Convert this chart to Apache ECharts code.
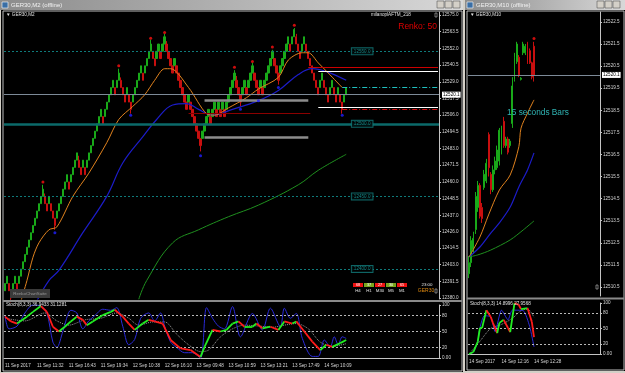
<!DOCTYPE html>
<html><head><meta charset="utf-8">
<script src="https://cdn.jsdelivr.net/npm/echarts@6/dist/echarts.min.js"></script>
<style>html,body{margin:0;padding:0;background:#d4d0c8;overflow:hidden}#chart{width:625px;height:373px}</style>
</head><body><div id="chart"></div>
<script>
// ---------------- LEFT CHART DATA (GER30,M2 renko) ----------------
const barCloses = [12390,12395,12385,12380,12390,12395,12385,12395,12400,12405,12410,12415,12420,12425,12430,12435,12440,12445,12450,12455,
12445,12440,12450,12440,12435,12430,12440,12445,12450,12455,12460,12465,12455,12465,12470,12475,12480,12470,12465,12475,
12465,12475,12480,12485,12490,12495,12500,12505,12510,12500,12510,12515,12520,12525,12530,12520,12530,12535,12525,12520,
12515,12525,12515,12510,12520,12525,12530,12535,12540,12530,12540,12545,12550,12555,12545,12540,12550,12555,12545,12555,
12560,12550,12545,12540,12535,12545,12535,12530,12525,12520,12515,12510,12520,12510,12505,12500,12495,12490,12485,12495,
12500,12505,12510,12500,12510,12515,12505,12515,12505,12515,12505,12515,12520,12525,12530,12535,12525,12520,12515,12525,
12530,12520,12530,12535,12540,12530,12525,12520,12530,12520,12530,12535,12540,12545,12550,12540,12535,12530,12540,12545,
12550,12555,12560,12550,12560,12565,12555,12550,12545,12555,12560,12550,12545,12540,12535,12530,12525,12520,12530,12535,
12525,12520,12515,12525,12530,12520,12515,12525,12515,12510,12520,12525];
const brickSize = 5;
const wickHighs = [[19,12458],[20,12452],[37,12478],[57,12538],[58,12532],[73,12558],[80,12562],[81,12557],[115,12537],[116,12533],[124,12542],[134,12551],[145,12566],[146,12562]];
const wickLows = [[3,12377],[25,12427],[63,12507],[98,12481],[118,12512],[137,12527],[169,12507]];
const redDots = [[19,12460],[57,12540],[73,12559],[80,12563],[115,12539],[124,12543],[134,12553],[145,12568]];
const blueDots = [[25,12425],[63,12506],[98,12478],[118,12510],[127,12516],[137,12525],[169,12506]];
const maFast = [[8,12378],[11,12392],[14,12408],[17,12418],[22,12427],[26,12429],[34,12450],[42,12466],[51,12487],[57,12503],[64,12512],[70,12520],[75,12530],[80,12538],[83,12538],[92,12525],[101,12507],[105,12506],[112,12511],[121,12518],[127,12524],[137,12532],[142,12544],[149,12549],[152,12549],[157,12542],[162,12535],[169,12525]];
const maMid = [[16,12378],[22,12392],[27,12399],[39,12425],[51,12450],[59,12473],[69,12491],[76,12503],[84,12513],[91,12514],[97,12510],[104,12506],[114,12510],[127,12516],[137,12523],[147,12534],[154,12538],[161,12536],[171,12530]];
const maSlow = [[67,12379],[71,12392],[84,12418],[97,12427],[112,12436],[127,12444],[147,12458],[157,12468],[171,12479]];
const currentPrice = 12520.1;
const roundLevels = [12550, 12450, 12400];   // dotted teal
const mainLevel = 12500;                      // thick teal
const grayZones = [[12516.4,100,152],[12491,100,152]];
const darkRedSeg = [[12507.5,92,153]];
const redSeg = [[12539,152,217]];
const whiteSegs = [[12536.4,157,217],[12511.6,157,217]];
const cyanDashDot = [[12525.4,169,217]];
const redDashDot = [[12510.2,169,217]];
const priceTicksL = [12380,12391.5,12403,12414.5,12426,12437,12448.5,12460,12471.5,12483,12494.5,12506,12517.5,12529,12540.5,12552,12563.5,12575];
const timeLabelsL = ["11 Sep 2017","11 Sep 11:32","11 Sep 16:43","11 Sep 19:34","12 Sep 10:38","12 Sep 16:10","13 Sep 09:48","13 Sep 10:59","13 Sep 13:21","13 Sep 17:49","14 Sep 10:09"];
const stochMain = [[0,78],[3,69],[6,65],[11,78],[14,87],[18,98],[21,87],[24,59],[27,50],[30,59],[33,69],[36,78],[39,72],[41,62],[44,69],[49,81],[53,87],[55,91],[59,78],[62,65],[65,53],[69,65],[72,72],[75,69],[79,65],[83,34],[88,18],[93,15],[98,2],[100,21],[104,53],[108,50],[111,53],[114,65],[117,69],[120,59],[124,59],[126,65],[129,56],[133,59],[137,53],[140,69],[144,65],[146,69],[150,50],[154,31],[158,15],[161,25],[164,21],[168,28],[171,34]];
const stochFast = [[0,80],[2,55],[6,60],[10,85],[14,100],[18,98],[21,85],[24,30],[26,20],[29,50],[33,90],[36,85],[39,55],[42,70],[45,80],[49,92],[53,90],[56,95],[59,60],[62,25],[65,35],[68,75],[72,85],[75,70],[78,85],[80,60],[83,30],[86,20],[90,10],[94,10],[98,0],[101,95],[104,75],[107,60],[110,55],[114,97],[118,40],[124,84],[129,53],[133,94],[138,59],[140,94],[143,75],[146,84],[149,37],[154,3],[157,3],[160,34],[163,21],[165,40],[167,25],[169,40],[171,37]];
const stochSignal = [[0,75],[10,70],[20,85],[26,70],[32,62],[40,72],[48,75],[56,85],[62,75],[67,62],[74,68],[80,68],[86,45],[92,25],[98,12],[102,15],[108,40],[114,55],[120,62],[128,60],[134,58],[140,62],[146,65],[152,55],[158,30],[164,22],[171,27]];
const stochLevels = [20,50,80];
const stochTicks = [0,20,50,80,100];
const tfNames = ["H4","H1","M30","M5","M1"];
const tfValues = ["68","37","27","30","65"];
const tfUp = [false,true,false,true,false];

// ---------------- RIGHT CHART DATA (GER30,M10) ----------------
const candlesR = [[12511.1,12511.6,12510.9,12511.9],[12511.6,12512.6,12511.4,12512.8],[12512.2,12512.7,12512.0,12513.0],[12513.1,12514.6,12512.9,12514.8],[12514.1,12515.1,12513.9,12515.3],[12515.1,12513.7,12513.6,12515.2],[12514.1,12513.6,12513.4,12514.3],[12515.0,12515.6,12514.9,12515.8],[12515.3,12516.1,12515.2,12516.3],[12517.4,12515.9,12515.5,12517.5],[12515.6,12514.9,12514.7,12515.7],[12514.9,12515.8,12514.8,12516.0],[12515.8,12516.2,12515.6,12516.4],[12515.9,12516.7,12515.8,12516.9],[12516.2,12517.6,12516.0,12517.7],[12516.7,12517.6,12516.5,12517.8],[12518.0,12516.9,12516.8,12518.2],[12516.9,12517.2,12516.8,12517.3],[12517.2,12516.6,12516.5,12517.3],[12516.9,12517.1,12516.8,12517.2],[12517.9,12519.6,12517.7,12520.0],[12519.9,12520.9,12519.8,12521.1],[12520.7,12521.5,12520.6,12521.6],[12520.9,12520.1,12520.0,12521.0],[12519.9,12519.95,12519.85,12520.0],[12521.1,12521.5,12521.0,12521.6],[12521.1,12521.4,12521.0,12521.5],[12521.55,12520.65,12520.6,12521.6],[12521.2,12520.65,12520.6,12521.3],[12520.65,12520.0,12519.9,12520.7],[12521.4,12520.1,12519.8,12521.6]];
const redDotsR = [[30,12521.75]];
const maFastR = [[0,12511.86],[5,12512.76],[9,12513.76],[14,12514.89],[19,12515.57],[23,12516.85],[24,12517.69],[27,12518.37],[30,12518.97]];
const maMidR = [[0,12511.86],[5,12512.31],[10,12512.94],[14,12513.4],[19,12514.12],[23,12515.03],[27,12515.8],[30,12516.57]];
const maSlowR = [[0,12511.86],[4,12511.95],[10,12512.17],[19,12512.63],[25,12513.08],[30,12513.49]];
const priceTicksR = [12510.5,12511.5,12512.5,12513.5,12514.5,12515.5,12516.5,12517.5,12518.5,12519.5,12520.5,12521.5,12522.5];
const timeLabelsR = ["14 Sep 2017","14 Sep 12:16","14 Sep 12:28"];
const stochMainR = [[0,0],[2,4],[4,24],[5,51],[6,51],[8,86],[10,73],[11,61],[13,41],[14,61],[16,67],[18,51],[19,43],[21,100],[23,96],[24,88],[27,90],[29,63],[30,33]];
const stochFastR = [[0,0],[2,4],[4,24],[5,51],[7,75],[10,73],[12,44],[15,86],[18,67],[20,86],[25,85],[28,54],[30,14]];
const stochSignalR = [[0,0],[5,25],[10,50],[15,58],[20,70],[24,85],[27,88],[30,72]];

// ---------------- BUILD ----------------
const NL = 218, NR = 61;
const catsL = Array.from({length: NL}, (_, i) => String(i));
const catsR = Array.from({length: NR}, (_, i) => String(i));
const candleL = barCloses.map((c, i) => {
  const prev = i === 0 ? c - brickSize : barCloses[i - 1];
  const dir = c > prev ? 1 : -1;
  const o = c - brickSize * dir;
  return [o, c, Math.min(o, c), Math.max(o, c)];
});
wickHighs.forEach(([i, h]) => { candleL[i][3] = h; });
wickLows.forEach(([i, l]) => { candleL[i][2] = l; });

const GREEN = '#19a919', RED = '#c80f0f', AX = '#c4c4c4', TXT = '#d6d6d6';
const FONT = 'Liberation Sans';
const small = {fontFamily: FONT, fontSize: 4.6, color: TXT};

function seg(list, style) {
  return list.map(([p, a, b]) => [{coord: [a, p], lineStyle: style}, {coord: [b, p]}]);
}
function stochSegments(arr) {
  const out = [];
  for (let k = 0; k < arr.length - 1; k++) {
    const up = arr[k + 1][1] >= arr[k][1];
    out.push({coords: [arr[k], arr[k + 1]], lineStyle: {color: up ? '#22ee22' : '#ff1a1a'}});
  }
  return out;
}
const stochLevelLines = stochLevels.map(v => ({yAxis: v}));

const markL = [
  {yAxis: currentPrice, lineStyle: {color: '#7d8a98', type: 'solid', width: 1},
   label: {show: true, position: 'end', distance: 3, formatter: currentPrice.toFixed(1), backgroundColor: '#fff', color: '#000', fontSize: 4.6, fontFamily: FONT, padding: [1, 1, 0, 1]}},
  ...roundLevels.map(p => ({yAxis: p, lineStyle: {color: '#0f7a7a', type: [2, 2], width: 1}, label: {show: false}})),
  {yAxis: mainLevel, lineStyle: {color: '#0b6a6a', type: 'solid', width: 2.5}, label: {show: false}},
  ...seg(grayZones, {color: '#8c8c8c', width: 2.5, type: 'solid'}),
  ...seg(darkRedSeg, {color: '#8b0000', width: 1, type: 'solid'}),
  ...seg(redSeg, {color: '#cc0000', width: 1.2, type: 'solid'}),
  ...seg(whiteSegs, {color: '#ffffff', width: 1.2, type: 'solid'}),
  ...seg(cyanDashDot, {color: '#20c0c0', width: 1, type: [5, 2, 1, 2]}),
  ...seg(redDashDot, {color: '#d01010', width: 1, type: [5, 2, 1, 2]})
];
const levelLabels = [...roundLevels, mainLevel].map(p => ({value: [179, p], label: {formatter: p.toFixed(1)}}));

const option = {
  backgroundColor: '#d4d0c8',
  animation: false,
  grid: [
    {left: 4, right: 186, top: 12, bottom: 74},
    {left: 4, right: 186, top: 305, bottom: 15},
    {left: 468, right: 25, top: 12, bottom: 77},
    {left: 468, right: 25, top: 303, bottom: 19}
  ],
  xAxis: [
    {gridIndex: 0, type: 'category', data: catsL, show: false},
    {gridIndex: 1, type: 'category', data: catsL, axisLine: {lineStyle: {color: AX}}, axisTick: {interval: 15, length: 2, lineStyle: {color: AX}},
     axisLabel: Object.assign({interval: 15, align: 'left', margin: 5, formatter: (v, i) => timeLabelsL[i / 16] || ''}, small)},
    {gridIndex: 2, type: 'category', data: catsR, show: false},
    {gridIndex: 3, type: 'category', data: catsR, axisLine: {lineStyle: {color: AX}}, axisTick: {interval: 14, length: 2, lineStyle: {color: AX}},
     axisLabel: Object.assign({interval: 14, align: 'left', margin: 5, formatter: (v, i) => timeLabelsR[i / 15] || ''}, small)}
  ],
  yAxis: [
    {gridIndex: 0, type: 'value', position: 'right', min: 12379.31, max: 12577.07, splitLine: {show: false},
     axisLine: {show: true, lineStyle: {color: AX}}, axisTick: {show: true, length: 2, customValues: priceTicksL, lineStyle: {color: AX}},
     axisLabel: Object.assign({customValues: priceTicksL, margin: 3, formatter: v => v.toFixed(1)}, small)},
    {gridIndex: 1, type: 'value', position: 'right', min: 0, max: 100, splitLine: {show: false},
     axisLine: {show: true, lineStyle: {color: AX}}, axisTick: {show: true, length: 2, customValues: stochTicks, lineStyle: {color: AX}},
     axisLabel: Object.assign({customValues: stochTicks, margin: 3, formatter: v => v === 0 ? '0.00' : String(v)}, small)},
    {gridIndex: 2, type: 'value', position: 'right', min: 12510.09, max: 12522.95, splitLine: {show: false},
     axisLine: {show: true, lineStyle: {color: AX}}, axisTick: {show: true, length: 2, customValues: priceTicksR, lineStyle: {color: AX}},
     axisLabel: Object.assign({customValues: priceTicksR, margin: 3, formatter: v => v.toFixed(1)}, small)},
    {gridIndex: 3, type: 'value', position: 'right', min: 0, max: 100, splitLine: {show: false},
     axisLine: {show: true, lineStyle: {color: AX}}, axisTick: {show: true, length: 2, customValues: stochTicks, lineStyle: {color: AX}},
     axisLabel: Object.assign({customValues: stochTicks, margin: 3, formatter: v => v === 0 ? '0.00' : String(v)}, small)}
  ],
  series: [
    // left main
    {type: 'candlestick', xAxisIndex: 0, yAxisIndex: 0, data: candleL, barWidth: 1.8, z: 3,
     itemStyle: {color: GREEN, color0: RED, borderColor: GREEN, borderColor0: RED, borderWidth: 1},
     markLine: {symbol: 'none', silent: true, animation: false, label: {show: false}, data: markL}},
    {type: 'line', xAxisIndex: 0, yAxisIndex: 0, data: maSlow, smooth: 0.4, showSymbol: false, lineStyle: {color: '#1f8f1f', width: 1}, z: 4},
    {type: 'line', xAxisIndex: 0, yAxisIndex: 0, data: maMid, smooth: 0.4, showSymbol: false, lineStyle: {color: '#1c1cc8', width: 1.2}, z: 4},
    {type: 'line', xAxisIndex: 0, yAxisIndex: 0, data: maFast, smooth: 0.3, showSymbol: false, lineStyle: {color: '#e0821e', width: 1}, z: 4},
    {type: 'scatter', xAxisIndex: 0, yAxisIndex: 0, data: redDots, symbolSize: 3, itemStyle: {color: '#ff1010'}, z: 5},
    {type: 'scatter', xAxisIndex: 0, yAxisIndex: 0, data: blueDots, symbolSize: 3, itemStyle: {color: '#2020ff'}, z: 5},
    {type: 'scatter', xAxisIndex: 0, yAxisIndex: 0, data: levelLabels, symbolSize: 0, z: 6,
     label: {show: true, position: 'inside', color: '#1aa3a3', fontSize: 4.6, fontFamily: FONT, borderColor: '#127d7d', borderWidth: 1, backgroundColor: '#000', padding: [1, 2, 0, 2]}},
    // left stochastic
    {type: 'line', xAxisIndex: 1, yAxisIndex: 1, data: stochSignal, smooth: 0.3, showSymbol: false, lineStyle: {color: '#9a9a9a', width: 1, type: [1, 1]}, z: 3,
     markLine: {symbol: 'none', silent: true, label: {show: false}, lineStyle: {color: '#b8b8b8', type: [2, 2], width: 1}, data: stochLevelLines}},
    {type: 'line', xAxisIndex: 1, yAxisIndex: 1, data: stochFast, smooth: 0.3, showSymbol: false, lineStyle: {color: '#2a2ad8', width: 1}, z: 4},
    {type: 'lines', xAxisIndex: 1, yAxisIndex: 1, coordinateSystem: 'cartesian2d', polyline: false, data: stochSegments(stochMain), lineStyle: {width: 1.8, opacity: 1}, z: 5},
    // right main
    {type: 'candlestick', xAxisIndex: 2, yAxisIndex: 2, data: candlesR, barWidth: 1.4, z: 3,
     itemStyle: {color: GREEN, color0: RED, borderColor: GREEN, borderColor0: RED, borderWidth: 1},
     markLine: {symbol: 'none', silent: true, data: [{yAxis: currentPrice, lineStyle: {color: '#7d8a98', type: 'solid', width: 1},
       label: {show: true, position: 'end', distance: 2, formatter: currentPrice.toFixed(1), backgroundColor: '#fff', color: '#000', fontSize: 4.6, fontFamily: FONT, padding: [1, 1, 0, 1]}}]}},
    {type: 'line', xAxisIndex: 2, yAxisIndex: 2, data: maSlowR, smooth: 0.3, showSymbol: false, lineStyle: {color: '#1f8f1f', width: 1}, z: 4},
    {type: 'line', xAxisIndex: 2, yAxisIndex: 2, data: maMidR, smooth: 0.3, showSymbol: false, lineStyle: {color: '#1c1cc8', width: 1.2}, z: 4},
    {type: 'line', xAxisIndex: 2, yAxisIndex: 2, data: maFastR, smooth: 0.3, showSymbol: false, lineStyle: {color: '#e0821e', width: 1}, z: 4},
    {type: 'scatter', xAxisIndex: 2, yAxisIndex: 2, data: redDotsR, symbolSize: 3, itemStyle: {color: '#ff1010'}, z: 5},
    // right stochastic
    {type: 'line', xAxisIndex: 3, yAxisIndex: 3, data: stochSignalR, smooth: 0.3, showSymbol: false, lineStyle: {color: '#9a9a9a', width: 1, type: [1, 1]}, z: 3,
     markLine: {symbol: 'none', silent: true, label: {show: false}, lineStyle: {color: '#b8b8b8', type: [2, 2], width: 1}, data: stochLevelLines}},
    {type: 'line', xAxisIndex: 3, yAxisIndex: 3, data: stochFastR, smooth: 0.2, showSymbol: false, lineStyle: {color: '#2a2ad8', width: 1}, z: 4},
    {type: 'lines', xAxisIndex: 3, yAxisIndex: 3, coordinateSystem: 'cartesian2d', polyline: false, data: stochSegments(stochMainR), lineStyle: {width: 1.8, opacity: 1}, z: 5}
  ],
  graphic: [
    // window backgrounds & frames
    {type: 'rect', z: -10, shape: {x: 0, y: 0, width: 463, height: 10}, style: {fill: new echarts.graphic.LinearGradient(0, 0, 1, 0, [{offset: 0, color: '#8c8c8c'}, {offset: 1, color: '#d8d8d8'}])}},
    {type: 'rect', z: -10, shape: {x: 1, y: 10, width: 462, height: 362}, style: {fill: '#000'}},
    {type: 'rect', z: -9, shape: {x: 3, y: 11, width: 459, height: 360}, style: {fill: 'none', stroke: '#bdbdbd', lineWidth: 1}},
    {type: 'rect', z: -10, shape: {x: 465, y: 0, width: 160, height: 10}, style: {fill: new echarts.graphic.LinearGradient(0, 0, 1, 0, [{offset: 0, color: '#8c8c8c'}, {offset: 1, color: '#d8d8d8'}])}},
    {type: 'rect', z: -10, shape: {x: 465, y: 10, width: 160, height: 361}, style: {fill: '#000'}},
    {type: 'rect', z: -9, shape: {x: 467, y: 11, width: 157, height: 359}, style: {fill: 'none', stroke: '#bdbdbd', lineWidth: 1}},
    // separators between price and indicator windows
    {type: 'rect', z: 20, shape: {x: 3, y: 300, width: 459, height: 2}, style: {fill: '#8a8a8a'}},
    {type: 'rect', z: 20, shape: {x: 467, y: 297.5, width: 157, height: 2}, style: {fill: '#8a8a8a'}},
    // title bars
    {type: 'rect', z: 20, shape: {x: 2, y: 2, width: 6, height: 6}, style: {fill: '#3a6ea5', stroke: '#fff', lineWidth: 0.6}},
    {type: 'text', z: 20, style: {x: 11, y: 5, text: 'GER30,M2 (offline)', fill: '#f2f2f2', font: '6px "Liberation Sans"', verticalAlign: 'middle'}},
    {type: 'rect', z: 20, shape: {x: 467, y: 2, width: 6, height: 6}, style: {fill: '#3a6ea5', stroke: '#fff', lineWidth: 0.6}},
    {type: 'text', z: 20, style: {x: 476, y: 5, text: 'GER30,M10 (offline)', fill: '#f2f2f2', font: '6px "Liberation Sans"', verticalAlign: 'middle'}},
    {type: 'rect', z: 20, shape: {x: 597, y: 1, width: 7, height: 7}, style: {fill: '#d4d0c8', stroke: '#404040', lineWidth: 0.5}},
    {type: 'rect', z: 20, shape: {x: 605, y: 1, width: 7, height: 7}, style: {fill: '#d4d0c8', stroke: '#404040', lineWidth: 0.5}},
    {type: 'rect', z: 20, shape: {x: 613, y: 1, width: 7, height: 7}, style: {fill: '#d4d0c8', stroke: '#404040', lineWidth: 0.5}},
    {type: 'rect', z: 20, shape: {x: 437, y: 1, width: 7, height: 7}, style: {fill: '#d4d0c8', stroke: '#404040', lineWidth: 0.5}},
    {type: 'rect', z: 20, shape: {x: 445, y: 1, width: 7, height: 7}, style: {fill: '#d4d0c8', stroke: '#404040', lineWidth: 0.5}},
    {type: 'rect', z: 20, shape: {x: 453, y: 1, width: 7, height: 7}, style: {fill: '#d4d0c8', stroke: '#404040', lineWidth: 0.5}},
    // in-chart texts
    {type: 'text', z: 20, style: {x: 6, y: 15, text: '▼ GER30,M2', fill: '#e0e0e0', font: '4.6px "Liberation Sans"', verticalAlign: 'middle'}},
    {type: 'text', z: 20, style: {x: 371, y: 15, text: 'milanoplAFTM_218', fill: '#e0e0e0', font: '4.6px "Liberation Sans"', verticalAlign: 'middle'}},
    {type: 'rect', z: 20, shape: {x: 435, y: 13, width: 2, height: 4}, style: {fill: 'none', stroke: '#c0c0c0', lineWidth: 0.6}},
    {type: 'text', z: 20, style: {x: 437, y: 27, text: 'Renko: 50', fill: '#e00000', font: '8.5px "Liberation Sans"', align: 'right', verticalAlign: 'middle'}},
    {type: 'rect', z: 20, shape: {x: 10, y: 289, width: 40, height: 9}, style: {fill: '#3a3a3a'}},
    {type: 'text', z: 21, style: {x: 30, y: 293.5, text: 'RenkoChartSuite', fill: '#9a9a9a', font: '4.4px "Liberation Sans"', align: 'center', verticalAlign: 'middle'}},
    {type: 'text', z: 20, style: {x: 6, y: 305, text: 'Stoch(8,3,3) 36.9433 31.1281', fill: '#e0e0e0', font: '4.6px "Liberation Sans"', verticalAlign: 'middle'}},
    {type: 'text', z: 20, style: {x: 470, y: 15, text: '▼ GER30,M10', fill: '#e0e0e0', font: '4.6px "Liberation Sans"', verticalAlign: 'middle'}},
    {type: 'text', z: 20, style: {x: 538, y: 113, text: '15 seconds Bars', fill: '#2fb4b4', font: '8.3px "Liberation Sans"', align: 'center', verticalAlign: 'middle'}},
    {type: 'text', z: 20, style: {x: 470, y: 304, text: 'Stoch(8,3,3) 14.8996 27.9568', fill: '#e0e0e0', font: '4.6px "Liberation Sans"', verticalAlign: 'middle'}},
    {type: 'rect', z: 20, shape: {x: 596, y: 285, width: 2, height: 4}, style: {fill: 'none', stroke: '#c0c0c0', lineWidth: 0.6}},
    // timeframe strength boxes
    ...tfValues.flatMap((v, k) => [
      {type: 'rect', z: 20, shape: {x: 353 + k * 11, y: 283, width: 10, height: 4}, style: {fill: tfUp[k] ? '#7aa51e' : '#ee1111'}},
      {type: 'text', z: 21, style: {x: 358 + k * 11, y: 285, text: v, fill: '#fff', font: '3.8px "Liberation Sans"', align: 'center', verticalAlign: 'middle'}},
      {type: 'text', z: 21, style: {x: 358 + k * 11, y: 291, text: tfNames[k], fill: '#e0e0e0', font: '4.4px "Liberation Sans"', align: 'center', verticalAlign: 'middle'}}
    ]),
    {type: 'text', z: 21, style: {x: 427, y: 285, text: '23:00', fill: '#e0e0e0', font: '4.4px "Liberation Sans"', align: 'center', verticalAlign: 'middle'}},
    {type: 'text', z: 21, style: {x: 426, y: 291, text: 'GER30', fill: '#e08a10', font: '5px "Liberation Sans"', align: 'center', verticalAlign: 'middle'}},
    {type: 'rect', z: 20, shape: {x: 435, y: 289, width: 2, height: 4}, style: {fill: 'none', stroke: '#c0c0c0', lineWidth: 0.6}}
  ]
};
const chart = echarts.init(document.getElementById('chart'), null, {renderer: 'canvas'});
chart.setOption(option);
</script></body></html>
